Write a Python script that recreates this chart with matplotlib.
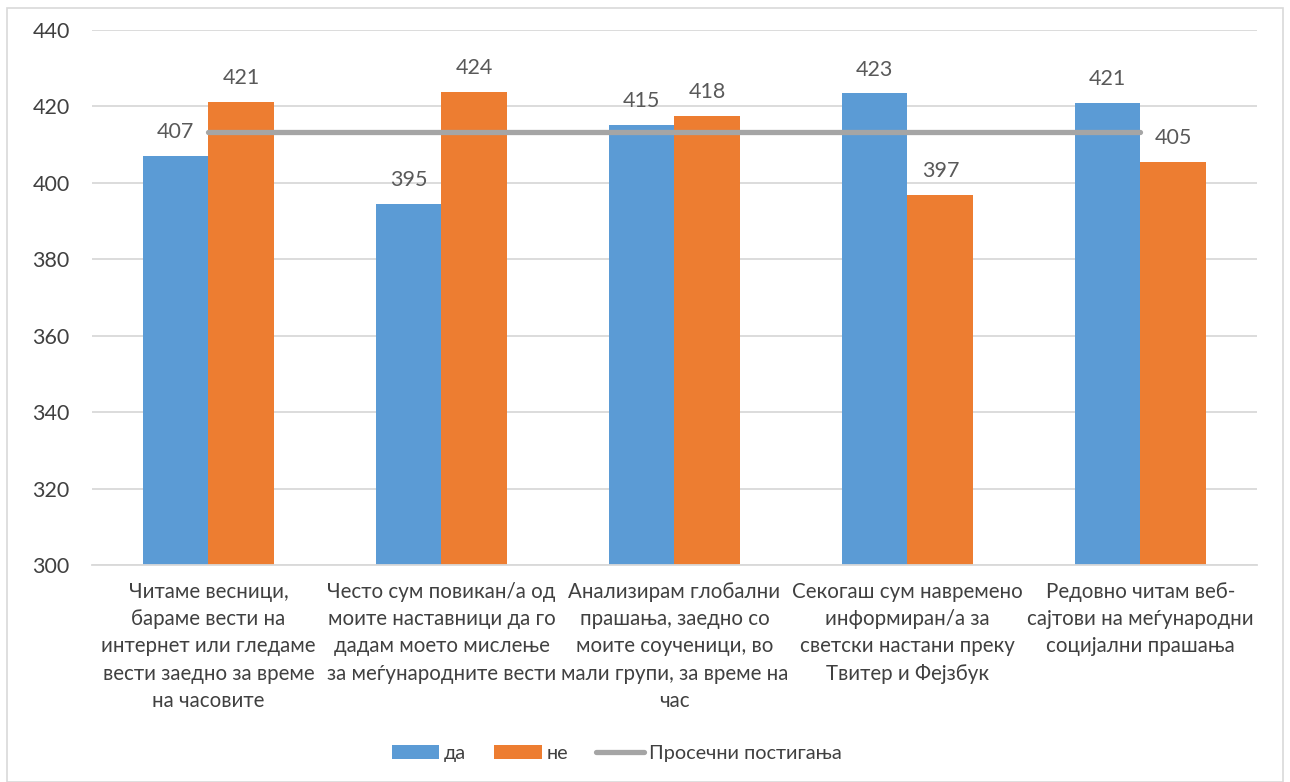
import numpy as np
import matplotlib
matplotlib.use("Agg")
import matplotlib.pyplot as plt
from matplotlib.patches import Patch, Rectangle
from matplotlib.lines import Line2D

plt.rcParams['font.family'] = ['Lato', 'DejaVu Sans']

categories = [
    "Читаме весници,\nбараме вести на\nинтернет или гледаме\nвести заедно за време\nна часовите",
    "Често сум повикан/а од\nмоите наставници да го\nдадам моето мислење\nза меѓународните вести",
    "Анализирам глобални\nпрашања, заедно со\nмоите соученици, во\nмали групи, за време на\nчас",
    "Секогаш сум навремено\nинформиран/а за\nсветски настани преку\nТвитер и Фејзбук",
    "Редовно читам веб-\nсајтови на меѓународни\nсоцијални прашања",
]
da = [407.1, 394.6, 415.2, 423.4, 421.0]
ne = [421.2, 423.8, 417.6, 396.8, 405.4]
average = [413.2, 413.2, 413.2, 413.2, 413.2]

blue = "#5B9BD5"
orange = "#ED7D31"
gray = "#A5A5A5"
text_col = "#404040"
label_col = "#595959"

fig = plt.figure(figsize=(12.9, 7.82), dpi=100)
ax = fig.add_axes([0.0713, 0.2775, 0.9031, 0.6841])

# chart frame
fig.patches.append(Rectangle((7 / 1290, 0.0), 1276 / 1290, 1 - 8 / 782,
                             transform=fig.transFigure, fill=False,
                             edgecolor="#D9D9D9", linewidth=1.2))

x = np.arange(len(categories))
w = 0.283
b1 = ax.bar(x - w / 2, da, w, color=blue, zorder=2)
b2 = ax.bar(x + w / 2, ne, w, color=orange, zorder=2)
ax.plot(x, average, color=gray, linewidth=3.8, solid_capstyle="round", zorder=3)

ax.bar_label(b1, fmt="%.0f", padding=10, fontsize=15.5, color=label_col)
ax.bar_label(b2, fmt="%.0f", padding=10, fontsize=15.5, color=label_col)

ax.set_ylim(300, 440)
ax.set_yticks(np.arange(300, 441, 20))
ax.set_xlim(-0.5, len(categories) - 0.5)
ax.set_xticks(x)
ax.set_xticklabels(categories, fontsize=14.8, color=text_col,
                   multialignment="center", linespacing=1.46)
ax.tick_params(axis="y", labelsize=15.5, labelcolor=text_col, length=0, pad=16)
ax.tick_params(axis="x", length=0, pad=12)

ax.grid(axis="y", color="#D9D9D9", linewidth=1.3, zorder=0)
for side in ["top", "right", "left"]:
    ax.spines[side].set_visible(False)
ax.spines["bottom"].set_color("#D9D9D9")
ax.spines["bottom"].set_linewidth(1.3)

handles = [
    Patch(facecolor=blue, label="да"),
    Patch(facecolor=orange, label="не"),
    Line2D([0], [0], color=gray, linewidth=3.8, solid_capstyle="round",
           label="Просечни постигања"),
]
fig.legend(handles=handles, loc="center", bbox_to_anchor=(0.478, 0.037), ncol=3,
           frameon=False, fontsize=14.3, handlelength=2.4, handletextpad=0.25,
           columnspacing=1.4, labelcolor=text_col)

fig.savefig("out.png", dpi=100)
